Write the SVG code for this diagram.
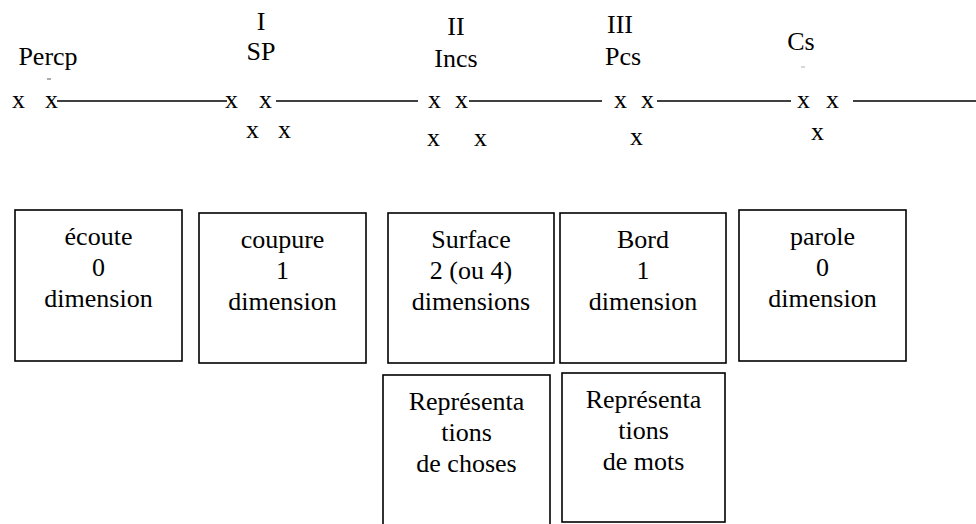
<svg xmlns="http://www.w3.org/2000/svg" width="976" height="524" viewBox="0 0 976 524">
<style>
.c{text-anchor:middle}
.box{fill:#fff;stroke:#000;stroke-width:1.6}
.ln{stroke:#000;stroke-width:1.6;fill:none}
</style>
<rect width="976" height="524" fill="#fff"/>
<g id="connectors">
<line class="ln" x1="57" y1="101" x2="227" y2="101"/>
<line class="ln" x1="276" y1="101" x2="418" y2="101"/>
<line class="ln" x1="469" y1="101" x2="602" y2="101"/>
<line class="ln" x1="657" y1="101" x2="791" y2="101"/>
<line class="ln" x1="853" y1="101" x2="976" y2="101"/>
</g>
<g font-family="Liberation Serif" font-size="26" fill="#000">
<g id="percp">
<text class="c" x="48" y="65">Percp</text>
<line x1="47" y1="79" x2="51" y2="79" stroke="#333" stroke-width="0.8"/>
<text x="12" y="108">x</text>
<text x="45" y="108">x</text>
</g>
<g id="sp">
<text class="c" x="261" y="30">I</text>
<text class="c" x="261" y="60">SP</text>
<text x="225" y="108">x</text>
<text x="259" y="108">x</text>
<text x="246" y="138">x</text>
<text x="278" y="138">x</text>
</g>
<g id="incs">
<text class="c" x="456" y="35">II</text>
<text class="c" x="456" y="67">Incs</text>
<text x="428" y="108">x</text>
<text x="455" y="108">x</text>
<text x="427" y="146">x</text>
<text x="474" y="146">x</text>
</g>
<g id="pcs">
<text class="c" x="620" y="33">III</text>
<text class="c" x="623" y="65">Pcs</text>
<text x="614" y="108">x</text>
<text x="641" y="108">x</text>
<text x="630" y="145">x</text>
</g>
<g id="cs">
<text class="c" x="801" y="50">Cs</text>
<line x1="801" y1="67" x2="805" y2="67" stroke="#999" stroke-width="0.8"/>
<text x="797" y="108">x</text>
<text x="826" y="108">x</text>
<text x="811" y="140">x</text>
</g>
<g id="ecoute">
<rect class="box" x="15" y="210" width="167" height="151"/>
<text class="c" x="98.5" y="245">écoute</text>
<text class="c" x="98.5" y="276">0</text>
<text class="c" x="98.5" y="307">dimension</text>
</g>
<g id="coupure">
<rect class="box" x="199" y="213" width="167" height="150"/>
<text class="c" x="282.5" y="248">coupure</text>
<text class="c" x="282.5" y="279">1</text>
<text class="c" x="282.5" y="310">dimension</text>
</g>
<g id="surface">
<rect class="box" x="388" y="213" width="166" height="150"/>
<text class="c" x="471" y="248">Surface</text>
<text class="c" x="471" y="279">2 (ou 4)</text>
<text class="c" x="471" y="310">dimensions</text>
</g>
<g id="bord">
<rect class="box" x="560" y="213" width="166" height="150"/>
<text class="c" x="643" y="248">Bord</text>
<text class="c" x="643" y="279">1</text>
<text class="c" x="643" y="310">dimension</text>
</g>
<g id="parole">
<rect class="box" x="739" y="210" width="167" height="151"/>
<text class="c" x="822.5" y="245">parole</text>
<text class="c" x="822.5" y="276">0</text>
<text class="c" x="822.5" y="307">dimension</text>
</g>
<g id="rep-choses">
<rect class="box" x="383" y="375" width="167" height="160"/>
<text class="c" x="466.5" y="410">Représenta</text>
<text class="c" x="466.5" y="441">tions</text>
<text class="c" x="466.5" y="472">de choses</text>
</g>
<g id="rep-mots">
<rect class="box" x="562" y="373" width="163" height="149"/>
<text class="c" x="643.5" y="408">Représenta</text>
<text class="c" x="643.5" y="439">tions</text>
<text class="c" x="643.5" y="470">de mots</text>
</g>
</g>
</svg>
